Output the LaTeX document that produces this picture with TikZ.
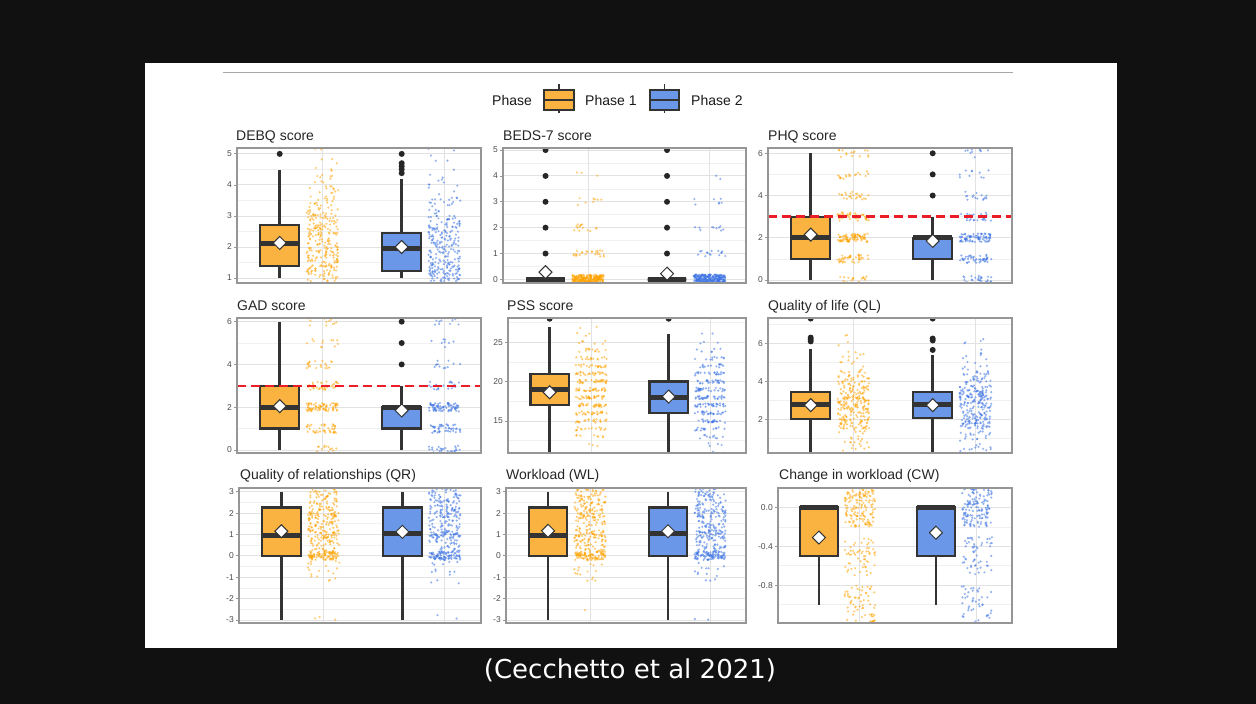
\documentclass[tikz,border=0pt]{standalone}
\usepackage{fontspec}
\setmainfont{Liberation Sans}
\newfontfamily\capfont{DejaVu Sans}
\definecolor{bgblack}{RGB}{17,17,17}
\definecolor{boxor}{RGB}{250,178,64}
\definecolor{boxbl}{RGB}{106,151,232}
\definecolor{ptor}{RGB}{255,163,0}
\definecolor{ptbl}{RGB}{60,115,228}
\definecolor{dark}{RGB}{51,51,51}
\definecolor{gridmaj}{RGB}{226,226,226}
\definecolor{gridmin}{RGB}{240,240,240}
\definecolor{pframecol}{RGB}{150,150,150}
\definecolor{redline}{RGB}{235,30,40}
\definecolor{ticktxt}{RGB}{77,77,77}
\tikzset{
 whisk/.style={draw=dark, line width=2.9pt},
 boxst/.style={draw=dark, line width=2.3pt},
 medst/.style={draw=dark, line width=5pt},
 meanst/.style={fill=white, draw=dark, line width=1pt},
 outl/.style={fill=black!85},
 por/.style={fill=ptor, fill opacity=0.55},
 pbl/.style={fill=ptbl, fill opacity=0.55},
 paneltitle/.style={anchor=base west, inner sep=0pt, font=\fontsize{14}{16}\selectfont, text=black!85},
 ticklab/.style={anchor=east, inner sep=0pt, font=\fontsize{8.5}{10}\selectfont, text=ticktxt, xshift=-5pt},
 pframe/.style={draw=pframecol, line width=1.1pt},
 gmaj/.style={draw=gridmaj, line width=0.9pt},
 gmin/.style={draw=gridmin, line width=0.5pt},
 thresh/.style={draw=redline, line width=2.6pt, dash pattern=on 9pt off 5pt},
 legtext/.style={anchor=base west, inner sep=0pt, font=\fontsize{14}{16}\selectfont, text=black!90},
}
% L T R B vmin vmax
\newcommand\PSet[6]{%
 \pgfmathsetmacro\pL{#1}\pgfmathsetmacro\pT{#2}%
 \pgfmathsetmacro\pR{#3}\pgfmathsetmacro\pB{#4}%
 \pgfmathsetmacro\pvmin{#5}\pgfmathsetmacro\pvmax{#6}%
 \pgfmathsetmacro\sx{(\pR-\pL)/2.0}%
 \pgfmathsetmacro\sy{(\pB-\pT)/(\pvmax-\pvmin)}%
 \pgfmathsetmacro\ox{\pL-0.3*\sx}%
 \pgfmathsetmacro\oy{-\pB-\pvmin*\sy}%
}
\newcommand\Grid[2]{%
 \foreach \v in {#2} \draw[gmin] (0.3,\v) -- (2.3,\v);
 \foreach \v in {#1} \draw[gmaj] (0.3,\v) -- (2.3,\v);
 \draw[gmaj] (1,\pvmin) -- (1,\pvmax);
 \draw[gmaj] (2,\pvmin) -- (2,\pvmax);
}
\newcommand\Ticks[2]{%
 \foreach \v/\lab [count=\c] in {#2}{%
  \draw[pframecol, line width=0.8pt] (0.3,\v) -- ++(-3pt,0pt);
  \node[ticklab] (tk#1-\c) at (0.3,\v) {\lab};
 }%
}
% u lo q1 med q3 hi mean fill
\newcommand\bx[8]{%
 \draw[whisk] (#1,#2) -- (#1,#6);
 \filldraw[boxst, fill=#8] (#1-0.16,#3) rectangle (#1+0.16,#5);
 \draw[medst] (#1-0.16,#4) -- (#1+0.16,#4);
 \filldraw[meanst] (#1,#7) +(0pt,6.5pt) -- +(6.5pt,0pt) -- +(0pt,-6.5pt) -- +(-6.5pt,0pt) -- cycle;
}
\newcommand\outp[2]{\fill[outl] (#1,#2) circle[radius=3pt];}
% u a b n style
\newcommand\jit[5]{\foreach \k in {1,...,#4}{\fill[#5] ({#1+0.13*rand},{#2+((#3)-(#2))*rnd}) circle[radius=1.2pt];}}
% u level n style half
\newcommand\lev[5]{\foreach \k in {1,...,#3}{\fill[#4] ({#1+0.13*rand},{#2+#5*rand}) circle[radius=1.2pt];}}

\begin{document}
\begin{tikzpicture}[x=1pt,y=1pt]
\pgfmathsetseed{4242}
\useasboundingbox (0,0) rectangle (1256,-704);
\fill[bgblack] (0,0) rectangle (1256,-704);
\fill[white] (145,-63) rectangle (1117,-648);
\draw[black!35, line width=1pt] (223,-72) -- (1013,-72);

% legend
\node[legtext] (legphase) at (492,-105) {Phase};
\draw[dark, line width=1.8pt] (559,-84) -- (559,-113);
\filldraw[fill=boxor, draw=dark, line width=1.8pt] (544,-90) rectangle (574,-110);
\draw[dark, line width=1.8pt] (544,-100) -- (574,-100);
\node[legtext] (legp1) at (585,-105) {Phase 1};
\draw[dark, line width=1.8pt] (664.5,-84) -- (664.5,-113);
\filldraw[fill=boxbl, draw=dark, line width=1.8pt] (650,-90) rectangle (679,-110);
\draw[dark, line width=1.8pt] (650,-100) -- (679,-100);
\node[legtext] (legp2) at (691,-105) {Phase 2};

% ===== Panel 1 DEBQ
\node[paneltitle] (t1) at (236,-140) {DEBQ score};
\PSet{237}{148}{481}{283}{0.84}{5.19}
\begin{scope}[shift={(\ox,\oy)}, x=\sx pt, y=\sy pt]
 \begin{scope}
  \clip (0.3,\pvmin) rectangle (2.3,\pvmax);
  \Grid{1,2,3,4,5}{1.5,2.5,3.5,4.5}
  \bx{0.65}{1.0}{1.39}{2.10}{2.71}{4.48}{2.13}{boxor}
  \outp{0.65}{5}
  \bx{1.65}{1.0}{1.23}{1.94}{2.45}{4.2}{2.0}{boxbl}
  \foreach \o in {4.38,4.5,4.6,4.7,5.0} {\outp{1.65}{\o}}
  \jit{1}{0.9}{1.5}{60}{por}\jit{1}{1.5}{2.5}{110}{por}\jit{1}{2.5}{3.2}{70}{por}
  \jit{1}{3.2}{4.0}{35}{por}\jit{1}{4.0}{4.6}{12}{por}\jit{1}{4.6}{5.25}{6}{por}
  \jit{2}{0.9}{1.5}{90}{pbl}\jit{2}{1.5}{2.5}{100}{pbl}\jit{2}{2.5}{3.0}{45}{pbl}
  \jit{2}{3.0}{3.6}{25}{pbl}\jit{2}{3.6}{4.5}{12}{pbl}\jit{2}{4.5}{5.25}{5}{pbl}
 \end{scope}
 \draw[pframe] (0.3,\pvmin) rectangle (2.3,\pvmax);
 \Ticks{a}{1/1,2/2,3/3,4/4,5/5}
\end{scope}

% ===== Panel 2 BEDS-7
\node[paneltitle] (t2) at (503,-140) {BEDS-7 score};
\PSet{503}{148}{746}{283}{-0.14}{5.08}
\begin{scope}[shift={(\ox,\oy)}, x=\sx pt, y=\sy pt]
 \begin{scope}
  \clip (0.3,\pvmin) rectangle (2.3,\pvmax);
  \Grid{0,1,2,3,4,5}{0.5,1.5,2.5,3.5,4.5}
  \foreach \o in {1,2,3,4,5} {\outp{0.65}{\o}\outp{1.65}{\o}}
  \bx{0.65}{0}{0}{0}{0}{0}{0.28}{boxor}
  \bx{1.65}{0}{0}{0}{0}{0}{0.22}{boxbl}
  \lev{1}{0}{280}{por}{0.19}\lev{1}{1}{25}{por}{0.12}\lev{1}{2}{14}{por}{0.15}
  \lev{1}{3}{8}{por}{0.15}\lev{1}{4}{3}{por}{0.15}\lev{1}{5}{1}{por}{0.1}
  \lev{2}{0}{280}{pbl}{0.19}\lev{2}{1}{15}{pbl}{0.12}\lev{2}{2}{10}{pbl}{0.15}
  \lev{2}{3}{7}{pbl}{0.15}\lev{2}{4}{2}{pbl}{0.15}\lev{2}{5}{1}{pbl}{0.1}
 \end{scope}
 \draw[pframe] (0.3,\pvmin) rectangle (2.3,\pvmax);
 \Ticks{b}{0/0,1/1,2/2,3/3,4/4,5/5}
\end{scope}

% ===== Panel 3 PHQ
\node[paneltitle] (t3) at (768,-140) {PHQ score};
\PSet{768}{148}{1012}{283}{-0.14}{6.25}
\begin{scope}[shift={(\ox,\oy)}, x=\sx pt, y=\sy pt]
 \begin{scope}
  \clip (0.3,\pvmin) rectangle (2.3,\pvmax);
  \Grid{0,2,4,6}{1,3,5}
  \bx{0.65}{0}{1}{2}{3}{6}{2.15}{boxor}
  \bx{1.65}{0}{1}{2}{2}{3}{1.85}{boxbl}
  \foreach \o in {4,5,6} {\outp{1.65}{\o}}
  \foreach \lv/\cn in {0/25,1/40,2/80,3/40,4/25,5/18,6/15} {\lev{1}{\lv}{\cn}{por}{0.2}}
  \foreach \lv/\cn in {0/30,1/45,2/80,3/25,4/15,5/10,6/10} {\lev{2}{\lv}{\cn}{pbl}{0.2}}
  \draw[thresh] (0.3,3) -- (2.3,3);
 \end{scope}
 \draw[pframe] (0.3,\pvmin) rectangle (2.3,\pvmax);
 \Ticks{c}{0/0,2/2,4/4,6/6}
\end{scope}

% ===== Panel 4 GAD
\node[paneltitle] (t4) at (237,-310) {GAD score};
\PSet{237}{318}{481}{453}{-0.14}{6.17}
\begin{scope}[shift={(\ox,\oy)}, x=\sx pt, y=\sy pt]
 \begin{scope}
  \clip (0.3,\pvmin) rectangle (2.3,\pvmax);
  \Grid{0,2,4,6}{1,3,5}
  \bx{0.65}{0}{1}{2}{3}{6}{2.05}{boxor}
  \bx{1.65}{0}{1}{2}{2}{3}{1.85}{boxbl}
  \foreach \o in {4,5,6} {\outp{1.65}{\o}}
  \foreach \lv/\cn in {0/25,1/40,2/75,3/35,4/20,5/12,6/12} {\lev{1}{\lv}{\cn}{por}{0.2}}
  \foreach \lv/\cn in {0/30,1/45,2/75,3/20,4/12,5/8,6/10} {\lev{2}{\lv}{\cn}{pbl}{0.2}}
  \draw[thresh] (0.3,3) -- (2.3,3);
 \end{scope}
 \draw[pframe] (0.3,\pvmin) rectangle (2.3,\pvmax);
 \Ticks{d}{0/0,2/2,4/4,6/6}
\end{scope}

% ===== Panel 5 PSS
\node[paneltitle] (t5) at (507,-310) {PSS score};
\PSet{508}{318}{746}{453}{10.93}{28.09}
\begin{scope}[shift={(\ox,\oy)}, x=\sx pt, y=\sy pt]
 \begin{scope}
  \clip (0.3,\pvmin) rectangle (2.3,\pvmax);
  \Grid{15,20,25}{12.5,17.5,22.5,27.5}
  \bx{0.65}{10}{17}{19}{21}{27}{18.65}{boxor}
  \outp{0.65}{28}
  \bx{1.65}{10}{16}{18}{20}{26}{18.1}{boxbl}
  \outp{1.65}{28}
  \foreach \lv/\cn in {12/3,13/8,14/15,15/20,16/25,17/30,18/30,19/30,20/30,21/25,22/20,23/15,24/12,25/6,26/3,27/2} {\lev{1}{\lv}{\cn}{por}{0.22}}
  \foreach \lv/\cn in {11/3,12/4,13/10,14/15,15/22,16/25,17/30,18/30,19/28,20/25,21/20,22/14,23/10,24/6,25/3,26/2} {\lev{2}{\lv}{\cn}{pbl}{0.22}}
 \end{scope}
 \draw[pframe] (0.3,\pvmin) rectangle (2.3,\pvmax);
 \Ticks{e}{15/15,20/20,25/25}
\end{scope}

% ===== Panel 6 QL
\node[paneltitle] (t6) at (768,-310) {Quality of life (QL)};
\PSet{768}{318}{1012}{453}{0.23}{7.33}
\begin{scope}[shift={(\ox,\oy)}, x=\sx pt, y=\sy pt]
 \begin{scope}
  \clip (0.3,\pvmin) rectangle (2.3,\pvmax);
  \Grid{2,4,6}{1,3,5,7}
  \bx{0.65}{0}{2.0}{2.78}{3.45}{5.7}{2.75}{boxor}
  \foreach \o in {6.1,6.2,6.3,7.3} {\outp{0.65}{\o}}
  \bx{1.65}{0}{2.08}{2.78}{3.45}{5.4}{2.75}{boxbl}
  \foreach \o in {5.65,6.15,6.25,7.3} {\outp{1.65}{\o}}
  \jit{1}{0.3}{1.5}{25}{por}\jit{1}{1.5}{2.5}{80}{por}\jit{1}{2.5}{3.5}{100}{por}
  \jit{1}{3.5}{4.5}{60}{por}\jit{1}{4.5}{5.5}{15}{por}\jit{1}{5.5}{6.5}{6}{por}
  \jit{2}{0.3}{1.5}{30}{pbl}\jit{2}{1.5}{2.5}{90}{pbl}\jit{2}{2.5}{3.5}{100}{pbl}
  \jit{2}{3.5}{4.5}{55}{pbl}\jit{2}{4.5}{5.5}{15}{pbl}\jit{2}{5.5}{6.5}{5}{pbl}
 \end{scope}
 \draw[pframe] (0.3,\pvmin) rectangle (2.3,\pvmax);
 \Ticks{f}{2/2,4/4,6/6}
\end{scope}

% ===== Panel 7 QR
\node[paneltitle] (t7) at (240,-479) {Quality of relationships (QR)};
\PSet{239}{488}{481}{623}{-3.14}{3.17}
\begin{scope}[shift={(\ox,\oy)}, x=\sx pt, y=\sy pt]
 \begin{scope}
  \clip (0.3,\pvmin) rectangle (2.3,\pvmax);
  \Grid{-3,-2,-1,0,1,2,3}{-2.5,-1.5,-0.5,0.5,1.5,2.5}
  \bx{0.65}{-3}{0}{0.93}{2.26}{3}{1.15}{boxor}
  \bx{1.65}{-3}{0}{1.03}{2.26}{3}{1.12}{boxbl}
  \jit{1}{-0.2}{0.2}{90}{por}\jit{1}{0.2}{3.2}{200}{por}\jit{1}{0.8}{1.2}{25}{por}
  \jit{1}{1.8}{2.2}{20}{por}\jit{1}{-1.2}{-0.2}{18}{por}\jit{1}{-3.1}{-2.7}{3}{por}
  \jit{2}{-0.2}{0.2}{90}{pbl}\jit{2}{0.2}{3.2}{200}{pbl}\jit{2}{0.8}{1.2}{25}{pbl}
  \jit{2}{1.8}{2.2}{20}{pbl}\jit{2}{-1.3}{-0.2}{14}{pbl}\jit{2}{-3.0}{-2.6}{2}{pbl}
 \end{scope}
 \draw[pframe] (0.3,\pvmin) rectangle (2.3,\pvmax);
 \Ticks{g}{-3/-3,-2/-2,-1/-1,0/0,1/1,2/2,3/3}
\end{scope}

% ===== Panel 8 WL
\node[paneltitle] (t8) at (506,-479) {Workload (WL)};
\PSet{506}{488}{746}{623}{-3.14}{3.17}
\begin{scope}[shift={(\ox,\oy)}, x=\sx pt, y=\sy pt]
 \begin{scope}
  \clip (0.3,\pvmin) rectangle (2.3,\pvmax);
  \Grid{-3,-2,-1,0,1,2,3}{-2.5,-1.5,-0.5,0.5,1.5,2.5}
  \bx{0.65}{-3}{0}{0.95}{2.26}{3}{1.17}{boxor}
  \bx{1.65}{-3}{0}{1.05}{2.26}{3}{1.15}{boxbl}
  \jit{1}{-0.2}{0.2}{90}{por}\jit{1}{0.2}{3.2}{200}{por}\jit{1}{0.8}{1.2}{25}{por}
  \jit{1}{1.8}{2.2}{20}{por}\jit{1}{-1.2}{-0.2}{16}{por}\jit{1}{-2.7}{-2.5}{1}{por}
  \jit{2}{-0.2}{0.2}{90}{pbl}\jit{2}{0.2}{3.2}{200}{pbl}\jit{2}{0.8}{1.2}{25}{pbl}
  \jit{2}{1.8}{2.2}{20}{pbl}\jit{2}{-1.3}{-0.2}{14}{pbl}\jit{2}{-3.0}{-2.6}{2}{pbl}
 \end{scope}
 \draw[pframe] (0.3,\pvmin) rectangle (2.3,\pvmax);
 \Ticks{h}{-3/-3,-2/-2,-1/-1,0/0,1/1,2/2,3/3}
\end{scope}

% ===== Panel 9 CW
\node[paneltitle] (t9) at (779,-479) {Change in workload (CW)};
\PSet{778}{488}{1012}{623}{-1.19}{0.2}
\begin{scope}[shift={(\ox,\oy)}, x=\sx pt, y=\sy pt]
 \begin{scope}
  \clip (0.3,\pvmin) rectangle (2.3,\pvmax);
  \Grid{0,-0.4,-0.8}{-0.2,-0.6,-1.0}
  \bx{0.65}{-1}{-0.5}{0}{0}{0}{-0.31}{boxor}
  \bx{1.65}{-1}{-0.5}{0}{0}{0}{-0.26}{boxbl}
  \jit{1}{-0.2}{0.2}{150}{por}\jit{1}{-0.7}{-0.3}{60}{por}\jit{1}{-1.2}{-0.8}{70}{por}
  \jit{2}{-0.2}{0.2}{140}{pbl}\jit{2}{-0.7}{-0.3}{55}{pbl}\jit{2}{-1.2}{-0.8}{45}{pbl}
 \end{scope}
 \draw[pframe] (0.3,\pvmin) rectangle (2.3,\pvmax);
 \Ticks{i}{0/0.0,-0.4/-0.4,-0.8/-0.8}
\end{scope}

% caption
\node[anchor=base, inner sep=0pt, font=\capfont\fontsize{26}{30}\selectfont, text=white] (cap) at (630,-678) {(Cecchetto et al 2021)};
\end{tikzpicture}
\end{document}
